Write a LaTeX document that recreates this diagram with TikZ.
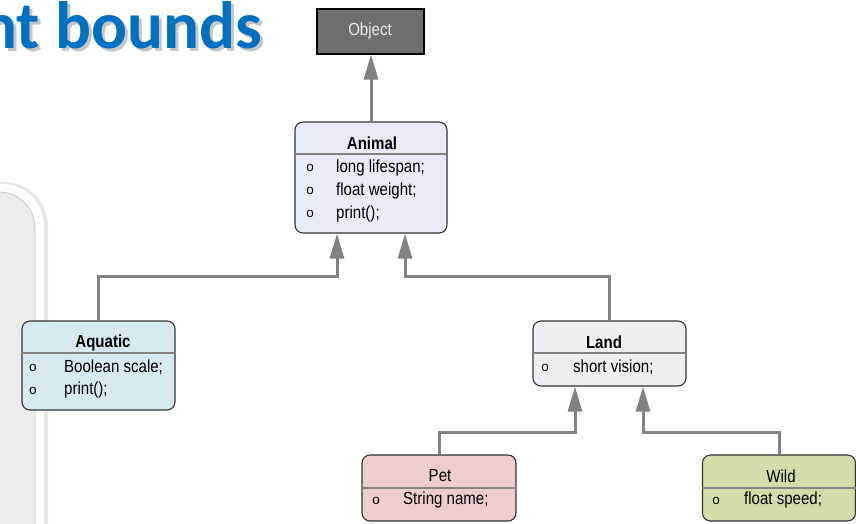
\documentclass[tikz,border=0pt]{standalone}
\usepackage{fontspec}
\setmainfont{Liberation Sans}
\newfontfamily\narrowfont{Liberation Sans}[FakeStretch=0.86]
\newfontfamily\titlefont{Carlito}
\usetikzlibrary{arrows.meta}
\definecolor{ttlblue}{HTML}{0070C0}
\definecolor{objfill}{HTML}{6E6E6E}
\definecolor{animfill}{HTML}{E8ECF8}
\definecolor{aquafill}{HTML}{D4EAF0}
\definecolor{landfill}{HTML}{F0EEF4}
\definecolor{petfill}{HTML}{EDCDCD}
\definecolor{wildfill}{HTML}{D1DEA9}
\definecolor{edgegray}{HTML}{828282}
\definecolor{panelgray}{HTML}{EBEBEB}
\tikzset{
  classbox/.style={draw=black!80, line width=1.1pt, rounded corners=8pt, inner sep=0pt},
  sep/.style={draw=edgegray, line width=1.4pt},
  ttl/.style={font=\narrowfont\fontsize{17.5}{19}\selectfont\bfseries, inner sep=0pt},
  ttlplain/.style={font=\narrowfont\fontsize{17.5}{19}\selectfont, inner sep=0pt},
  item/.style={font=\narrowfont\fontsize{17.5}{19}\selectfont, anchor=west, inner sep=0pt},
  bul/.style={font=\fontsize{13.5}{15}\selectfont, inner sep=0pt},
  inh/.style={draw=edgegray, line width=3pt, -{Triangle[length=25pt,width=14pt]}}
}
\begin{document}
\begin{tikzpicture}[x=1pt,y=-1pt]
\useasboundingbox (0,0) rectangle (856,523);
\clip (0,0) rectangle (856,523);
% left panel
\path[fill=black!10, rounded corners=44pt] (-100,182) rectangle (48,640);
\path[fill=white, rounded corners=42pt] (-100,184) rectangle (44,640);
\path[fill=panelgray, draw=black!22, line width=0.8pt, rounded corners=36pt] (-100,192) rectangle (35,640);
% title
\node[anchor=base east, inner sep=0pt, text=black!45, opacity=0.5, font=\titlefont\bfseries\fontsize{67}{72}\selectfont] at (265,51) {nt bounds};
\node (title) [anchor=base east, inner sep=0pt, text=ttlblue, font=\titlefont\bfseries\fontsize{67}{72}\selectfont] at (262,48) {nt bounds};
% Object
\node (object) [draw=black, line width=2pt, fill=objfill, minimum width=107pt, minimum height=45pt, inner sep=0pt, text=black!8, font=\narrowfont\fontsize{17.5}{19}\selectfont] at (370,31) {Object};
% Animal
\node (animal) [classbox, fill=animfill, minimum width=152pt, minimum height=111pt] at (371,177.5) {};
\draw[sep] (animal.west |- 0,154) -- (animal.east |- 0,154);
\node (animalt) [ttl] at (372,143) {Animal};
\node (ab1) [bul] at (310,168) {o}; \node (ai1) [item] at (336,168) {long lifespan;};
\node (ab2) [bul] at (310,191) {o}; \node (ai2) [item] at (336,191) {float weight;};
\node (ab3) [bul] at (310,214) {o}; \node (ai3) [item] at (336,214) {print();};
% Aquatic
\node (aquatic) [classbox, fill=aquafill, minimum width=153pt, minimum height=89pt] at (98.5,365.5) {};
\draw[sep] (aquatic.west |- 0,353) -- (aquatic.east |- 0,353);
\node (aquat) [ttl] at (103,343) {Aquatic};
\node (qb1) [bul] at (33,368) {o}; \node (qi1) [item] at (64,367) {Boolean scale;};
\node (qb2) [bul] at (33,391) {o}; \node (qi2) [item] at (64,390) {print();};
% Land
\node (land) [classbox, fill=landfill, minimum width=153pt, minimum height=65pt] at (609.5,353.5) {};
\draw[sep] (land.west |- 0,353) -- (land.east |- 0,353);
\node (landt) [ttl] at (604,342) {Land};
\node (lb1) [bul] at (545,368) {o}; \node (li1) [item] at (573,367) {short vision;};
% Pet
\node (pet) [classbox, fill=petfill, minimum width=154pt, minimum height=66pt] at (439,488) {};
\draw[sep] (pet.west |- 0,488) -- (pet.east |- 0,488);
\node (pett) [ttlplain] at (440,476) {Pet};
\node (pb1) [bul] at (376,501) {o}; \node (pi1) [item] at (403,500) {String name;};
% Wild
\node (wild) [classbox, fill=wildfill, minimum width=153pt, minimum height=66pt] at (779,488) {};
\draw[sep] (wild.west |- 0,488) -- (wild.east |- 0,488);
\node (wildt) [ttlplain] at (781,476) {Wild};
\node (wb1) [bul] at (716,501) {o}; \node (wi1) [item] at (744,500) {float speed;};
% inheritance connectors
\draw[inh] (animal.north) -- (animal.north |- object.south);
\draw[inh] (aquatic.north) |- ([xshift=-34pt]animal.south |- 0,276) -- ([xshift=-34pt]animal.south);
\draw[inh] (land.north) |- ([xshift=34pt]animal.south |- 0,276) -- ([xshift=34pt]animal.south);
\draw[inh] (pet.north) |- ([xshift=-34.5pt]land.south |- 0,432) -- ([xshift=-34.5pt]land.south);
\draw[inh] (wild.north) |- ([xshift=33.5pt]land.south |- 0,432) -- ([xshift=33.5pt]land.south);
\end{tikzpicture}
\end{document}
